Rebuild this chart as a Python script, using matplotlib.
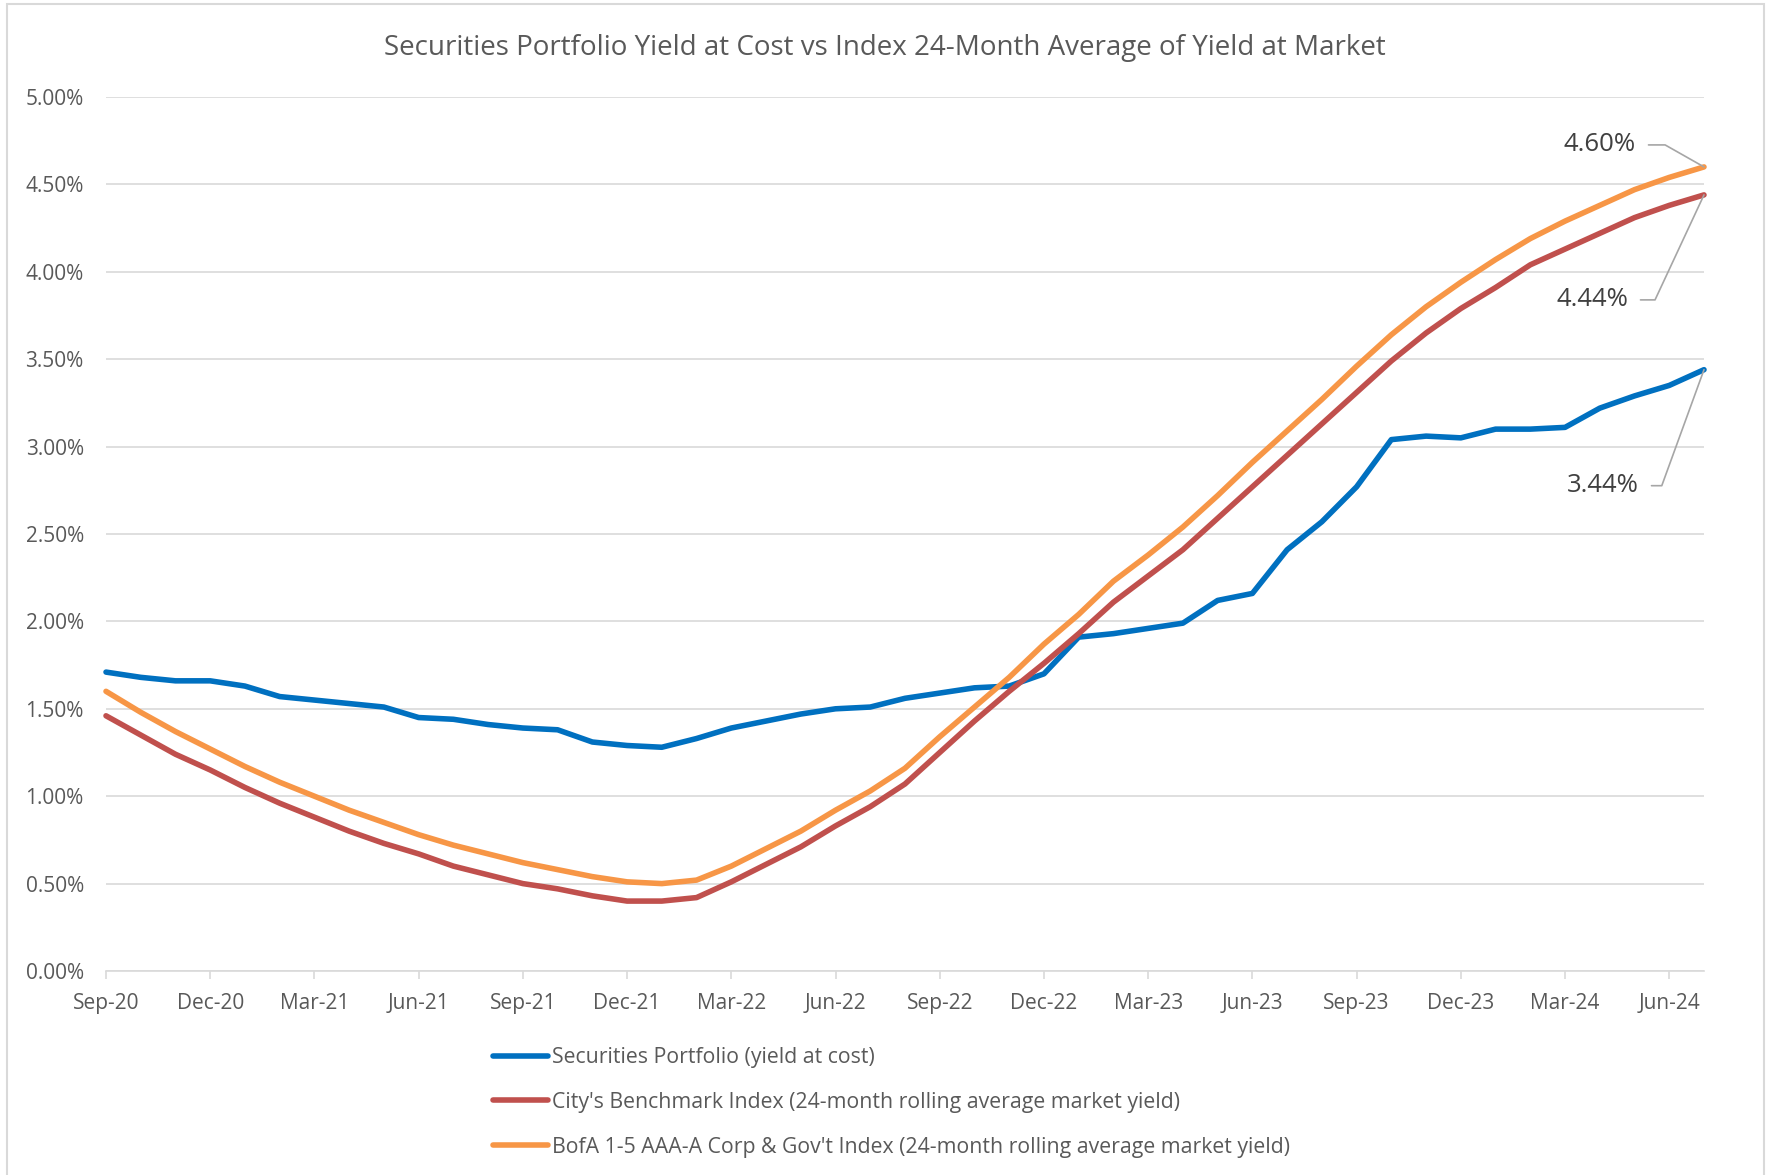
import matplotlib
matplotlib.use("Agg")
import matplotlib.pyplot as plt
from matplotlib.patches import Rectangle
from matplotlib.ticker import FuncFormatter

plt.rcParams['font.family'] = ['Open Sans', 'DejaVu Sans']

# monthly, Sep-20 .. Jul-24 (values in %)
months = ['Sep-20', 'Oct-20', 'Nov-20', 'Dec-20',
          'Jan-21', 'Feb-21', 'Mar-21', 'Apr-21', 'May-21', 'Jun-21',
          'Jul-21', 'Aug-21', 'Sep-21', 'Oct-21', 'Nov-21', 'Dec-21',
          'Jan-22', 'Feb-22', 'Mar-22', 'Apr-22', 'May-22', 'Jun-22',
          'Jul-22', 'Aug-22', 'Sep-22', 'Oct-22', 'Nov-22', 'Dec-22',
          'Jan-23', 'Feb-23', 'Mar-23', 'Apr-23', 'May-23', 'Jun-23',
          'Jul-23', 'Aug-23', 'Sep-23', 'Oct-23', 'Nov-23', 'Dec-23',
          'Jan-24', 'Feb-24', 'Mar-24', 'Apr-24', 'May-24', 'Jun-24', 'Jul-24']

portfolio = [1.71, 1.68, 1.66, 1.66,
             1.63, 1.57, 1.55, 1.53, 1.51, 1.45, 1.44, 1.41, 1.39, 1.38, 1.31, 1.29,
             1.28, 1.33, 1.39, 1.43, 1.47, 1.50, 1.51, 1.56, 1.59, 1.62, 1.63, 1.70,
             1.91, 1.93, 1.96, 1.99, 2.12, 2.16, 2.41, 2.57, 2.77, 3.04, 3.06, 3.05,
             3.10, 3.10, 3.11, 3.22, 3.29, 3.35, 3.44]

benchmark = [1.46, 1.35, 1.24, 1.15,
             1.05, 0.96, 0.88, 0.80, 0.73, 0.67, 0.60, 0.55, 0.50, 0.47, 0.43, 0.40,
             0.40, 0.42, 0.51, 0.61, 0.71, 0.83, 0.94, 1.07, 1.25, 1.43, 1.60, 1.76,
             1.93, 2.11, 2.26, 2.41, 2.59, 2.77, 2.95, 3.13, 3.31, 3.49, 3.65, 3.79,
             3.91, 4.04, 4.13, 4.22, 4.31, 4.38, 4.44]

bofa = [1.60, 1.48, 1.37, 1.27,
        1.17, 1.08, 1.00, 0.92, 0.85, 0.78, 0.72, 0.67, 0.62, 0.58, 0.54, 0.51,
        0.50, 0.52, 0.60, 0.70, 0.80, 0.92, 1.03, 1.16, 1.34, 1.51, 1.68, 1.87,
        2.04, 2.23, 2.38, 2.54, 2.72, 2.91, 3.09, 3.27, 3.46, 3.64, 3.80, 3.94,
        4.07, 4.19, 4.29, 4.38, 4.47, 4.54, 4.60]

labels = ['Securities Portfolio (yield at cost)',
          "City's Benchmark Index (24-month rolling average market yield)",
          "BofA 1-5 AAA-A Corp & Gov't Index (24-month rolling average market yield)"]
colors = ['#0070C0', '#C0504D', '#F79646']

text_col = '#595959'
grid_col = '#D9D9D9'

fig = plt.figure(figsize=(17.69, 11.75), dpi=100)
ax = fig.add_axes([106 / 1769, 1 - 971 / 1175, (1704 - 106) / 1769, (971 - 97) / 1175])

x = list(range(len(months)))
for series, col, lab in zip([portfolio, benchmark, bofa], colors, labels):
    ax.plot(x, series, color=col, lw=4.0, label=lab, solid_capstyle='round',
            solid_joinstyle='round', clip_on=False, zorder=3)

ax.set_xlim(0, len(months) - 1)
ax.set_ylim(0, 5)
ax.set_yticks([i * 0.5 for i in range(11)])
ax.yaxis.set_major_formatter(FuncFormatter(lambda v, p: f'{v:.2f}%'))
ax.set_xticks(x[::3])
ax.set_xticklabels(months[::3])

ax.grid(axis='y', color=grid_col, lw=1.2)
ax.set_axisbelow(True)
for s in ['top', 'right', 'left']:
    ax.spines[s].set_visible(False)
ax.spines['bottom'].set_color(grid_col)
ax.spines['bottom'].set_linewidth(1.2)
ax.tick_params(axis='y', length=0, pad=16, labelsize=15, labelcolor=text_col)
ax.tick_params(axis='x', length=6, width=1.2, color=grid_col, direction='out',
               pad=10, labelsize=15, labelcolor=text_col)

# end-point labels with leader lines
ends = [(bofa, (-68, 22), 150.5), (benchmark, (-76, -105), 65), (portfolio, (-65, -116), 70)]
for series, off, angB in ends:
    ax.annotate(f'{series[-1]:.2f}%', xy=(x[-1], series[-1]), xytext=off,
                textcoords='offset pixels', ha='right', va='center',
                fontsize=18.5, color='#404040',
                arrowprops=dict(arrowstyle='-', color='#A6A6A6', lw=1.2,
                                relpos=(1, 0.5), shrinkA=7, shrinkB=0,
                                connectionstyle=f'angle,angleA=0,angleB={angB},rad=0'))

fig.text(0.5, 1 - 48 / 1175,
         'Securities Portfolio Yield at Cost vs Index 24-Month Average of Yield at Market',
         ha='center', va='center', fontsize=20, color=text_col)

fig.legend(loc='upper left', bbox_to_anchor=(493 / 1769, 1 - 1047 / 1175),
           frameon=False, fontsize=15.3, labelcolor=text_col, handlelength=2.6,
           handletextpad=0.2, labelspacing=1.12, borderpad=0, borderaxespad=0)

fig.add_artist(Rectangle((7 / 1769, -0.01), (1764 - 7) / 1769, 1.01 - 4 / 1175,
                         transform=fig.transFigure, fill=False, ec=grid_col, lw=1.5))

fig.savefig('out.png', dpi=100)
